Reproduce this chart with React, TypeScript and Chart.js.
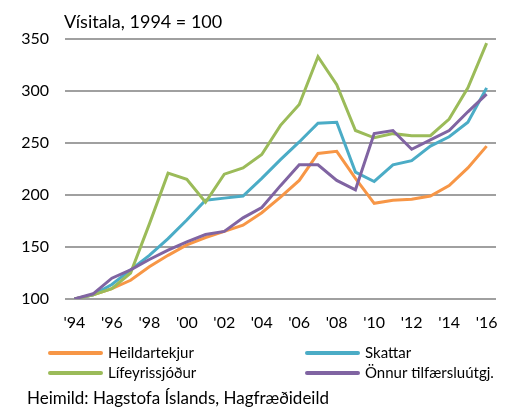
import React, { useEffect, useRef } from "react";
import { Chart, registerables } from "chart.js";

Chart.register(...registerables);

const years = ["'94","'95","'96","'97","'98","'99","'00","'01","'02","'03","'04","'05","'06","'07","'08","'09","'10","'11","'12","'13","'14","'15","'16"];
const heildartekjur = [100,104,110,118,131,142,152,159,165,171,183,198,214,240,242,216,192,195,196,199,209,226,247];
const skattar = [100,104,114,128,142,158,176,195,197,199,216,234,251,269,270,222,213,229,233,247,256,270,303];
const lifeyrissjodur = [100,104,110,125,172,221,215,193,220,226,239,267,287,333,306,262,255,259,257,257,273,303,346];
const onnur = [100,105,120,128,138,147,155,162,165,178,188,209,229,229,214,205,259,262,244,253,262,280,297];

const seriesNames = ["Heildartekjur", "Skattar", "Lífeyrissjóður", "Önnur tilfærsluútgj."];
const seriesColors = ["#F79646", "#4BACC6", "#9BBB59", "#8064A2"];
const titleText = "Vísitala, 1994 = 100";
const sourceText = "Heimild: Hagstofa Íslands, Hagfræðideild";
const FONT = "Lato, 'Open Sans', sans-serif";

export default function App() {
  const ref = useRef<HTMLCanvasElement | null>(null);
  useEffect(() => {
    if (!ref.current) return;
    const overlay = {
      id: "overlay",
      afterDraw(chart: any) {
        const ctx = chart.ctx;
        ctx.save();
        ctx.fillStyle = "#000";
        ctx.textBaseline = "middle";
        ctx.textAlign = "left";
        ctx.font = `18px ${FONT}`;
        ctx.fillText(titleText, 64, 22);
        // legend
        const pos = [
          { x: 50, y: 353 },
          { x: 307, y: 353 },
          { x: 50, y: 373 },
          { x: 307, y: 373 },
        ];
        ctx.font = `15px ${FONT}`;
        seriesNames.forEach((n, i) => {
          const p = pos[i];
          ctx.strokeStyle = seriesColors[i];
          ctx.lineWidth = 4;
          ctx.lineCap = "round";
          ctx.beginPath();
          ctx.moveTo(p.x, p.y);
          ctx.lineTo(p.x + 51, p.y);
          ctx.stroke();
          ctx.fillText(n, p.x + 58, p.y);
        });
        ctx.font = `17px ${FONT}`;
        ctx.fillText(sourceText, 27, 399);
        ctx.restore();
      },
    };
    const data = [heildartekjur, skattar, lifeyrissjodur, onnur];
    const chart = new Chart(ref.current, {
      type: "line",
      data: {
        labels: years,
        datasets: data.map((d, i) => ({
          label: seriesNames[i],
          data: d,
          borderColor: seriesColors[i],
          backgroundColor: seriesColors[i],
          borderWidth: 3,
          pointRadius: 0,
          tension: 0,
          order: 4 - i,
        })),
      },
      options: {
        animation: false,
        responsive: false,
        layout: { padding: { left: 0, right: 16, top: 39, bottom: 0 } },
        plugins: { legend: { display: false }, tooltip: { enabled: false }, title: { display: false } },
        scales: {
          x: {
            offset: true,
            grid: { display: false, drawTicks: false },
            border: { display: false },
            afterFit: (s: any) => { s.height = 108; },
            ticks: {
              autoSkip: false,
              maxRotation: 0,
              padding: 14,
              color: "#000",
              font: { family: FONT, size: 16 },
              callback: (v: any, i: number) => (i % 2 === 0 ? years[i] : ""),
            },
          },
          y: {
            min: 100,
            max: 350,
            grid: { color: "#A0A0A0", lineWidth: 2, drawTicks: false },
            border: { display: false },
            afterFit: (s: any) => { s.width = 65; },
            ticks: {
              stepSize: 50,
              padding: 16,
              color: "#000",
              font: { family: FONT, size: 16 },
            },
          },
        },
      },
      plugins: [overlay],
    });
    return () => chart.destroy();
  }, []);
  return (
    <div style={{ position: "fixed", left: 0, top: 0, width: 512, height: 407, background: "#fff" }}>
      <canvas ref={ref} width={512} height={407} style={{ width: 512, height: 407 }} />
    </div>
  );
}
